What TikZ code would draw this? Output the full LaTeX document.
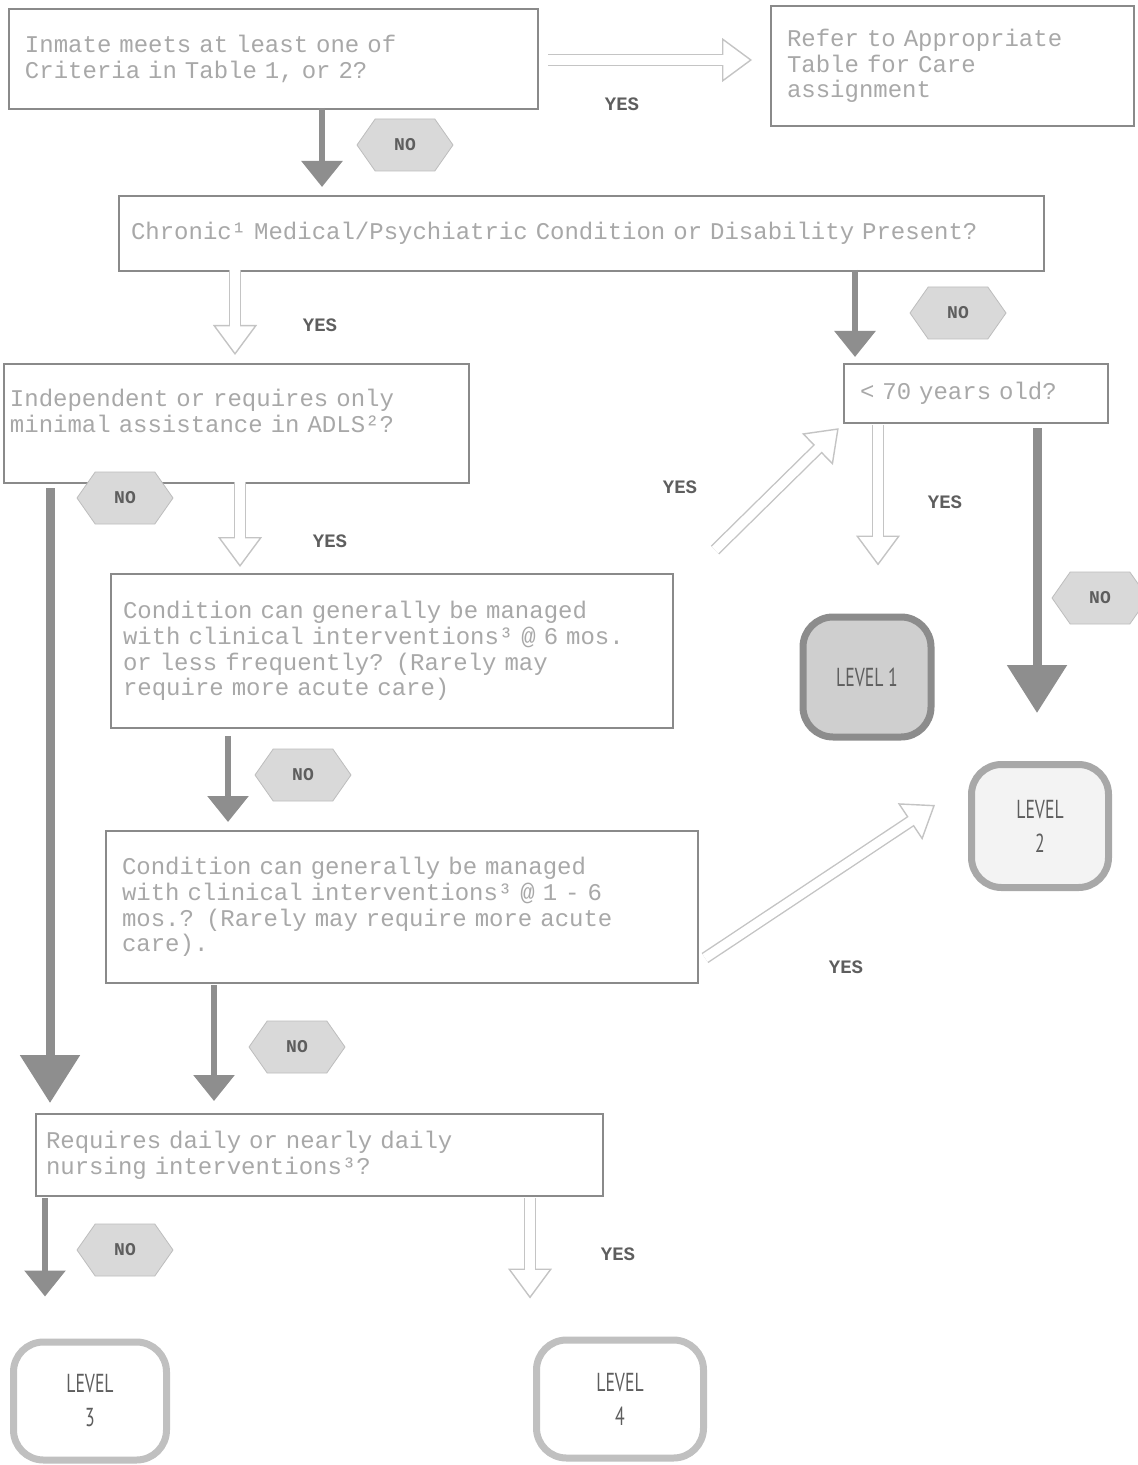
\documentclass[tikz,border=0pt]{standalone}
\usepackage{fontspec}
\setmonofont{Liberation Mono}
\newfontfamily\levelfont[FakeStretch=0.68]{PT Sans}
\usetikzlibrary{arrows.meta,shapes.symbols}
\definecolor{boxline}{HTML}{8A8A8A}
\definecolor{boxtext}{HTML}{A8A8A8}
\definecolor{darkarrow}{HTML}{8E8E8E}
\definecolor{lightarrow}{HTML}{C4C4C4}
\definecolor{hexfill}{HTML}{D9D9D9}
\definecolor{hexline}{HTML}{BDBDBD}
\definecolor{labeltext}{HTML}{5E5E5E}
\definecolor{levone}{HTML}{8C8C8C}
\definecolor{levonefill}{HTML}{CFCFCF}
\definecolor{levtwo}{HTML}{A8A8A8}
\definecolor{levtwofill}{HTML}{F3F3F3}
\definecolor{levlow}{HTML}{C0C0C0}
\tikzstyle{question}=[rectangle,draw=boxline,line width=1pt,anchor=north west,
align=left,inner xsep=8pt,text=boxtext,font=\ttfamily\fontsize{12pt}{12.8pt}\selectfont]
\tikzstyle{nolabel}=[signal,signal to=east and west,signal pointer angle=110,
draw=hexline,fill=hexfill,minimum width=48pt,minimum height=26pt,inner sep=1pt,
font=\ttfamily\bfseries\fontsize{9pt}{9pt}\selectfont,text=labeltext]
\tikzstyle{yeslabel}=[font=\ttfamily\bfseries\fontsize{9.5pt}{10pt}\selectfont,text=labeltext]
\tikzstyle{level}=[rectangle,rounded corners=15pt,line width=3.5pt,align=center,
font=\levelfont\fontsize{13pt}{17pt}\selectfont,text=labeltext]
\tikzstyle{noarrow}=[color=darkarrow,line width=3pt,-{Triangle[width=20pt,length=13pt]}]
\tikzstyle{bignoarrow}=[color=darkarrow,line width=4.5pt,-{Triangle[width=29pt,length=24pt]}]
\tikzstyle{yesarrow}=[color=lightarrow,line width=6pt,
-{Triangle[open,fill=white,line width=0.7pt,width=22pt,length=15pt]},
postaction={draw=white,line width=4.6pt,-{Triangle[color=white,width=3pt,length=15pt]}}]

\begin{document}
\begin{tikzpicture}[x=0.5pt,y=-0.5pt]
\fill[white] (0,0) rectangle (1138,1465);
\useasboundingbox (0,0) rectangle (1138,1465);

% questions
\node[question,text width=248.5pt,minimum height=50pt] (inmate) at (8,8)
  {Inmate meets at least one of\\Criteria in Table 1, or 2?};
\node[question,text width=165.5pt,minimum height=60pt] (refer) at (770,5)
  {Refer to Appropriate\\Table for Care\\assignment};
\node[question,inner xsep=6pt,text width=450.5pt,minimum height=37.5pt] (chronic) at (118,195)
  {Chronic¹ Medical/Psychiatric Condition or Disability Present?};
\node[question,text width=116pt,minimum height=29.5pt] (age) at (843,363)
  {< 70 years old?};
\node[question,inner xsep=3pt,text width=226.5pt,minimum height=59.5pt] (indep) at (3,363)
  {Independent or requires only\\minimal assistance in ADLS²?\\\mbox{}};
\node[question,inner xsep=6pt,text width=269pt,minimum height=77pt] (cond1) at (110,573)
  {Condition can generally be managed\\with clinical interventions³ @ 6 mos.\\or less frequently? (Rarely may\\require more acute care)};
\node[question,text width=280pt,minimum height=76pt] (cond2) at (105,830)
  {Condition can generally be managed\\with clinical interventions³ @ 1 - 6\\mos.? (Rarely may require more acute\\care).};
\node[question,inner xsep=5pt,text width=273.5pt,minimum height=41pt] (nursing) at (35,1113)
  {Requires daily or nearly daily\\nursing interventions³?};

% levels
\node[level,draw=levone,fill=levonefill,minimum width=64pt,minimum height=60pt] (lev1) at (867,677) {LEVEL 1};
\node[level,draw=levtwo,fill=levtwofill,minimum width=68.5pt,minimum height=61.5pt] (lev2) at (1040,826) {LEVEL\\2};
\node[level,draw=levlow,fill=white,minimum width=76.5pt,minimum height=59pt] (lev3) at (90,1401) {LEVEL\\3};
\node[level,draw=levlow,fill=white,minimum width=83.5pt,minimum height=59pt] (lev4) at (620,1399) {LEVEL\\4};

% first decision
\coordinate (yesA) at (548,60);
\draw[yesarrow,shorten >=9pt] (yesA) -- (yesA -| refer.west);
\node[yeslabel] (yesAlbl) at (622,104) {YES};
\coordinate (noA) at (322,108);
\draw[noarrow,shorten >=4pt] (noA) -- (noA |- chronic.north);
\node[nolabel] (noAlbl) at (405,145) {NO};

% chronic condition
\coordinate (yesB) at (235,270);
\draw[yesarrow,shorten >=4pt] (yesB) -- (yesB |- indep.north);
\node[yeslabel] (yesBlbl) at (320,325) {YES};
\coordinate (noB) at (855,270);
\draw[noarrow,shorten >=3pt] (noB) -- (noB |- age.north);
\node[nolabel] (noBlbl) at (958,313) {NO};

% age
\coordinate (yesD) at (878,425);
\draw[yesarrow,shorten >=24pt] (yesD) -- (yesD |- lev1.north);
\node[yeslabel] (yesDlbl) at (945,502) {YES};
\coordinate (noD) at (1037,428);
\draw[bignoarrow,shorten >=24pt] (noD) -- (noD |- lev2.north);
\node[nolabel] (noDlbl) at (1100,598) {NO};

% ADLs
\coordinate (noC) at (50,488);
\draw[bignoarrow,shorten >=5pt] (noC) -- (noC |- nursing.north);
\node[nolabel] (noClbl) at (125,498) {NO};
\coordinate (yesC) at (240,482);
\draw[yesarrow,shorten >=3pt] (yesC) -- (yesC |- cond1.north);
\node[yeslabel] (yesClbl) at (330,541) {YES};

% clinical interventions
\coordinate (yesE) at (715,550);
\draw[yesarrow,shorten >=3pt] (yesE) -- (age.south west);
\node[yeslabel] (yesElbl) at (680,487) {YES};
\coordinate (noF) at (228,736);
\draw[noarrow,shorten >=4pt] (noF) -- (noF |- cond2.north);
\node[nolabel] (noFlbl) at (303,775) {NO};
\coordinate (yesG) at (705,958);
\coordinate (yesGend) at (935,805);
\draw[yesarrow] (yesG) -- (yesGend);
\node[yeslabel] (yesGlbl) at (846,967) {YES};
\coordinate (noG) at (214,985);
\draw[noarrow,shorten >=6pt] (noG) -- (noG |- nursing.north);
\node[nolabel] (noGlbl) at (297,1047) {NO};

% nursing
\coordinate (noH) at (45,1198);
\draw[noarrow,shorten >=21pt] (noH) -- (noH |- lev3.north);
\node[nolabel] (noHlbl) at (125,1250) {NO};
\coordinate (yesH) at (530,1198);
\draw[yesarrow,shorten >=19pt] (yesH) -- (yesH |- lev4.north);
\node[yeslabel] (yesHlbl) at (618,1254) {YES};
\end{tikzpicture}
\end{document}
